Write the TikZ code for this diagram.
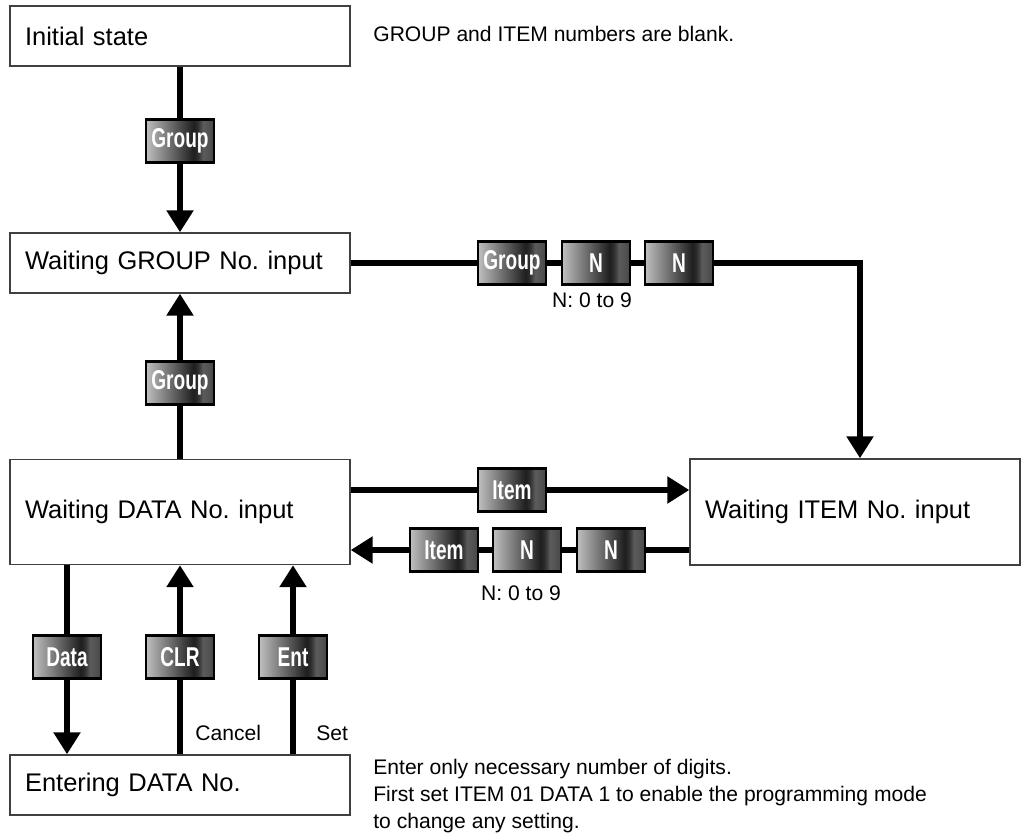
\documentclass[tikz,border=0pt]{standalone}
\usepackage{fontspec}
\setmainfont{Liberation Sans}
\newfontfamily\keyfont{Liberation Sans}[FakeStretch=0.7]
\usepackage{tikz}
\usetikzlibrary{arrows.meta,positioning}
\frenchspacing

\pgfdeclarehorizontalshading{keyshade}{100bp}{color(0bp)=(black!25); color(25bp)=(black!25);
  color(60bp)=(black!88); color(63bp)=(black!82); color(67bp)=(black!64); color(75bp)=(black!72);
  color(100bp)=(black!72)}

\begin{document}
\begin{tikzpicture}[x=0.02cm,y=-0.02cm,
  every node/.style={font=\fontsize{12}{14}\selectfont},
  box/.style={draw=black!75,line width=0.85pt,minimum width=6.8cm,minimum height=1.2cm,
    inner xsep=0.3cm,text width=6.2cm,align=left,font=\fontsize{14.5}{16}\selectfont},
  key/.style={draw=black,line width=1.6pt,shading=keyshade,minimum width=1.36cm,
    minimum height=0.86cm,inner sep=0pt,text=white,font=\keyfont\bfseries\fontsize{15.5}{15.5}\selectfont},
  flow/.style={line width=3.1pt},
  tip/.style={flow,-{Triangle[width=0.52cm,length=0.44cm]}},
  note/.style={anchor=base west,inner sep=0pt}]
 \useasboundingbox (0,0) rectangle (1021,834);
 % states
 \node[box] (init)  at (180,36)  {Initial state};
 \node[box] (grp)   at (180,263) {Waiting GROUP No. input};
 \node[box,minimum height=2.1cm] (data) at (180,512) {Waiting DATA No. input};
 \node[box] (enter) at (180,785) {Entering DATA No.};
 \node[box,minimum width=6.6cm,text width=6.0cm,minimum height=2.12cm] (item) at (855,512) {Waiting ITEM No. input};
 % keys
 \node[key] (kinit) at (180,141) {Group};
 \node[key] (kup)   at (180,383) {Group};
 \node[key] (kgrp)  at (512,263) {Group};
 \node[key] (kgn1)  at (596,263) {N};
 \node[key] (kgn2)  at (679,263) {N};
 \node[key] (kitem) at (512,490) {Item};
 \node[key] (kback) at (444,550) {Item};
 \node[key] (kbn1)  at (527,550) {N};
 \node[key] (kbn2)  at (611,550) {N};
 \node[key] (kdata) at (67,657)  {Data};
 \node[key] (kclr)  at (180,657) {CLR};
 \node[key] (kent)  at (293,657) {Ent};
 % notes
 \node[note] (blank) at (373,42) {GROUP and ITEM numbers are blank.};
 \node[anchor=base,inner sep=0pt] (rng1) at (592,308) {N: 0 to 9};
 \node[anchor=base,inner sep=0pt] (rng2) at (521,600) {N: 0 to 9};
 \node[note] (cancel) at (195,740) {Cancel};
 \node[note] (set)    at (316,740) {Set};
 \node[note] (hint1) at (373,774) {Enter only necessary number of digits.};
 \node[note] (hint2) at (373,801) {First set ITEM 01 DATA 1 to enable the programming mode};
 \node[note] (hint3) at (373,828) {to change any setting.};
 % connectors
 \foreach \a/\b in {init/kinit,data/kup,grp/kgrp,kgrp/kgn1,kgn1/kgn2,data.east |- kitem/kitem,
   item.west |- kbn2/kbn2,kbn2/kbn1,kbn1/kback,data.south -| kdata/kdata,
   enter.north -| kclr/kclr,enter.north -| kent/kent}
   \draw[flow] (\a) -- (\b);
 \foreach \a/\b in {kinit/grp,kup/grp,kitem/item.west |- kitem,kback/data.east |- kback,
   kdata/enter.north -| kdata,kclr/data.south -| kclr,kent/data.south -| kent}
   \draw[tip] (\a) -- (\b);
 \draw[tip] (kgn2) -| ([xshift=0.1cm]item.north);
\end{tikzpicture}
\end{document}
